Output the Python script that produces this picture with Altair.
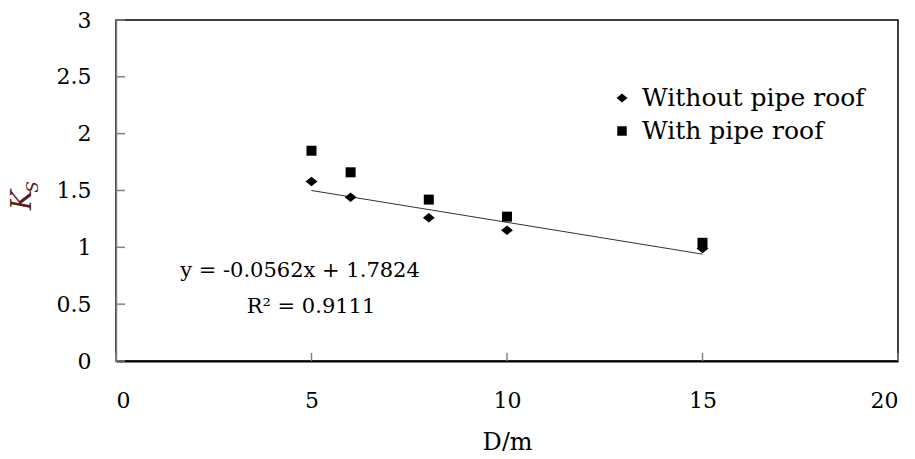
import altair as alt
import pandas as pd

# ---- data ----
d_m = [5, 6, 8, 10, 15]
ks_without = [1.58, 1.44, 1.26, 1.15, 0.99]
ks_with = [1.85, 1.66, 1.42, 1.27, 1.04]
series_names = ["Without pipe roof", "With pipe roof"]
trend_x = [5, 15]
trend_y = [1.50, 0.94]
x_ticks = [0, 5, 10, 15, 20]
y_ticks = [0, 0.5, 1, 1.5, 2, 2.5, 3]
eq_lines = ["y = -0.0562x + 1.7824", "R\u00b2 = 0.9111"]

FONT = "DejaVu Serif"
W, H = 782, 341

pts = pd.DataFrame({
    "D": d_m + d_m,
    "K": ks_without + ks_with,
    "series": [series_names[0]] * len(d_m) + [series_names[1]] * len(d_m),
})
trend = pd.DataFrame({"D": trend_x, "K": trend_y})

xscale = alt.Scale(domain=[0, 20], nice=False)
yscale = alt.Scale(domain=[0, 3], nice=False)
diamond = "M-1,0L0,-0.8L1,0L0,0.8Z"
shape_scale = alt.Scale(domain=series_names, range=[diamond, "square"])
size_scale = alt.Scale(domain=series_names, range=[140, 100])

x_axis = alt.Axis(values=x_ticks, grid=False, tickSize=0, labelFont=FONT, labelFontSize=22,
                  labelColor="black", labelPadding=29, domainColor="black", domainWidth=2,
                  title="D/m", titleFont=FONT, titleFontSize=24, titleFontWeight="normal",
                  titleColor="black", titlePadding=19)
y_axis = alt.Axis(values=y_ticks, format="~g", grid=False, tickSize=0, labelFont=FONT,
                  labelFontSize=22, labelColor="black", labelPadding=25,
                  domainColor="#808080", domainWidth=1.5, title=None)

points = alt.Chart(pts).mark_point(filled=True, color="black", opacity=1).encode(
    x=alt.X("D:Q", scale=xscale, axis=x_axis),
    y=alt.Y("K:Q", scale=yscale, axis=y_axis),
    shape=alt.Shape("series:N", scale=shape_scale, legend=None),
    size=alt.Size("series:N", scale=size_scale, legend=None),
)

line = alt.Chart(trend).mark_line(color="#333333", strokeWidth=1).encode(
    x=alt.X("D:Q", scale=xscale), y=alt.Y("K:Q", scale=yscale)
)

# inward tick marks
xt = alt.Chart(pd.DataFrame({"t": x_ticks})).mark_rule(color="#808080", strokeWidth=1.5).encode(
    x=alt.X("t:Q", scale=xscale), y=alt.value(H), y2=alt.value(H - 8)
)
yt = alt.Chart(pd.DataFrame({"t": y_ticks})).mark_rule(color="#808080", strokeWidth=1.5).encode(
    y=alt.Y("t:Q", scale=yscale), x=alt.value(0), x2=alt.value(9)
)

layers = [line, points, xt, yt]

# equation annotation
eq_pos = [(184, 251), (195, 287)]
for txt, (px, py) in zip(eq_lines, eq_pos):
    layers.append(
        alt.Chart(pd.DataFrame({"txt": [txt]})).mark_text(
            font=FONT, fontSize=21, color="black", align="center", baseline="middle"
        ).encode(text="txt:N", x=alt.value(px), y=alt.value(py))
    )

# legend (manual, inside plot)
leg_rows = [78, 111]
leg_shapes = [diamond, "square"]
leg_sizes = [120, 90]
for name, shp, sz, py in zip(series_names, leg_shapes, leg_sizes, leg_rows):
    df = pd.DataFrame({"series": [name]})
    layers.append(
        alt.Chart(df).mark_point(filled=True, color="black", opacity=1, size=sz, shape=shp).encode(
            x=alt.value(506), y=alt.value(py)
        )
    )
    layers.append(
        alt.Chart(df).mark_text(font=FONT, fontSize=25, color="black", align="left",
                                baseline="middle").encode(
            x=alt.value(526), y=alt.value(py), text="series:N"
        )
    )

# y-axis title K_S (rotated)
layers.append(alt.Chart(pd.DataFrame({"a": ["K"]})).mark_text(
    font=FONT, fontSize=27, fontStyle="italic", color="#5c1a1a", angle=270,
    align="center", baseline="middle"
).encode(text="a:N", x=alt.value(-93), y=alt.value(180)))
layers.append(alt.Chart(pd.DataFrame({"a": ["S"]})).mark_text(
    font=FONT, fontSize=17, fontStyle="italic", color="#5c1a1a", angle=270,
    align="center", baseline="middle"
).encode(text="a:N", x=alt.value(-83), y=alt.value(167)))

chart = alt.layer(*layers).properties(
    width=W, height=H,
    autosize=alt.AutoSizeParams(type="none"),
    padding={"left": 108, "top": 12, "right": 9, "bottom": 90},
    background="white",
).configure_view(stroke="black", strokeWidth=1.5)

chart.save("out.html", embed_options={"renderer": "svg", "actions": False})
